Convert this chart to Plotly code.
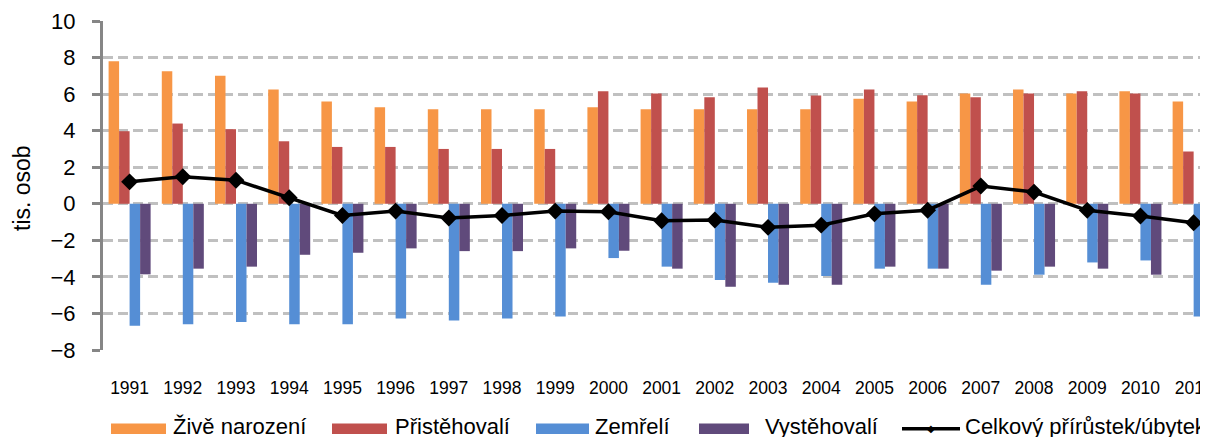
import plotly.graph_objects as go

years = [str(y) for y in range(1991, 2012)]
zive_narozeni = [7.80, 7.25, 7.01, 6.25, 5.59, 5.28, 5.17, 5.17, 5.17, 5.28, 5.17,
                 5.17, 5.17, 5.17, 5.74, 5.59, 6.03, 6.25, 6.03, 6.16, 5.59]
pristehovali = [3.97, 4.39, 4.08, 3.42, 3.11, 3.11, 3.00, 3.00, 3.00, 6.16, 6.03,
                5.83, 6.36, 5.92, 6.25, 5.94, 5.83, 6.03, 6.16, 6.03, 2.86]
zemreli = [-6.68, -6.59, -6.47, -6.59, -6.59, -6.28, -6.39, -6.28, -6.17, -2.97, -3.44,
           -4.17, -4.32, -3.95, -3.55, -3.55, -4.43, -3.88, -3.21, -3.10, -6.17]
vystehovali = [-3.86, -3.55, -3.44, -2.79, -2.68, -2.44, -2.59, -2.59, -2.44, -2.57, -3.55,
               -4.54, -4.43, -4.43, -3.44, -3.55, -3.66, -3.44, -3.55, -3.88, -3.32]
celkovy = [1.20, 1.48, 1.29, 0.33, -0.64, -0.40, -0.78, -0.64, -0.40, -0.44, -0.93,
           -0.89, -1.29, -1.17, -0.55, -0.35, 0.97, 0.64, -0.36, -0.67, -1.04]

names = ["Živě narození", "Přistěhovalí", "Zemřelí", "Vystěhovalí", "Celkový přírůstek/úbytek"]
colors = ["#F79646", "#C0504D", "#558ED5", "#604A7B", "#000000"]

OFF = 8  # default page body margin
W, H = 1208 - OFF, 437 - OFF
L, R, T, B = 103 - OFF, 0, 21 - OFF, 87
PW, PH = W - L - R, H - T - B
FONT = "Liberation Sans, Arial, sans-serif"
GRAY = "#868686"
XR = [-0.5, 20.27]

def px(xw):
    return (xw - OFF - L) / PW

def py(yw):
    return (H - B - (yw - OFF)) / PH

fig = go.Figure()
for vals, nm, c in zip([zive_narozeni, pristehovali, zemreli, vystehovali], names[:4], colors[:4]):
    fig.add_trace(go.Bar(x=years, y=vals, name=nm, marker=dict(color=c, line=dict(width=0)),
                         showlegend=False))
fig.add_trace(go.Scatter(x=years, y=celkovy, name=names[4], mode="lines+markers",
                         line=dict(color="#000000", width=3.5),
                         marker=dict(symbol="diamond", size=13, color="#000000"),
                         showlegend=False))

fig.update_layout(
    width=W, height=H,
    margin=dict(l=L, r=R, t=T, b=B, autoexpand=False),
    paper_bgcolor="white", plot_bgcolor="white",
    barmode="group", bargap=0.21, bargroupgap=0,
    font=dict(family=FONT, color="#000000"),
    xaxis=dict(type="category", categoryarray=years, range=XR, showline=False,
               ticks="", showgrid=False, zeroline=False,
               tickfont=dict(size=17.5, family=FONT), ticklabelstandoff=25),
    xaxis2=dict(overlaying="x", anchor="free", position=8 / 18, range=XR,
                showline=True, linecolor=GRAY, linewidth=3,
                ticks="outside", ticklen=6, tickwidth=3, tickcolor=GRAY,
                tickmode="array", tickvals=[i + 0.5 for i in range(len(years))],
                showticklabels=False, showgrid=False, zeroline=False),
    yaxis=dict(range=[-8, 10], tickmode="linear", tick0=-8, dtick=2,
               showline=True, linecolor=GRAY, linewidth=3,
               ticks="outside", ticklen=8, tickwidth=3, tickcolor=GRAY,
               showgrid=True, gridcolor="#C0C0C0", gridwidth=3, griddash="10px,5px",
               zeroline=False, tickfont=dict(size=22, family=FONT),
               ticklabelstandoff=12),
)

fig.add_annotation(text="tis. osob", xref="paper", yref="paper", x=px(22), y=py(188),
                   textangle=-90, showarrow=False, xanchor="center", yanchor="middle",
                   font=dict(size=23, family=FONT, color="#000000"))

# legend drawn manually
sw = [(111, 166), (332, 387), (536, 589), (699, 749), (902, 960)]
tx = [171, 393, 593, 763, 963]
for i, (nm, c) in enumerate(zip(names, colors)):
    x0, x1 = sw[i]
    if i < 4:
        fig.add_shape(type="rect", xref="paper", yref="paper", x0=px(x0), x1=px(x1),
                      y0=py(434), y1=py(423.5), fillcolor=c, line=dict(width=0))
    else:
        fig.add_shape(type="line", xref="paper", yref="paper", x0=px(x0), x1=px(x1),
                      y0=py(428.7), y1=py(428.7), line=dict(color=c, width=3.5))
        fig.add_annotation(text="◆", xref="paper", yref="paper", x=px((x0 + x1) / 2),
                           y=py(428.7), showarrow=False, xanchor="center", yanchor="middle",
                           font=dict(size=10, color=c, family="DejaVu Sans"))
    fig.add_annotation(text=nm, xref="paper", yref="paper", x=px(tx[i]), y=py(426),
                       showarrow=False, xanchor="left", yanchor="middle",
                       font=dict(size=22, family=FONT, color="#000000"))

fig.write_html("out.html")
